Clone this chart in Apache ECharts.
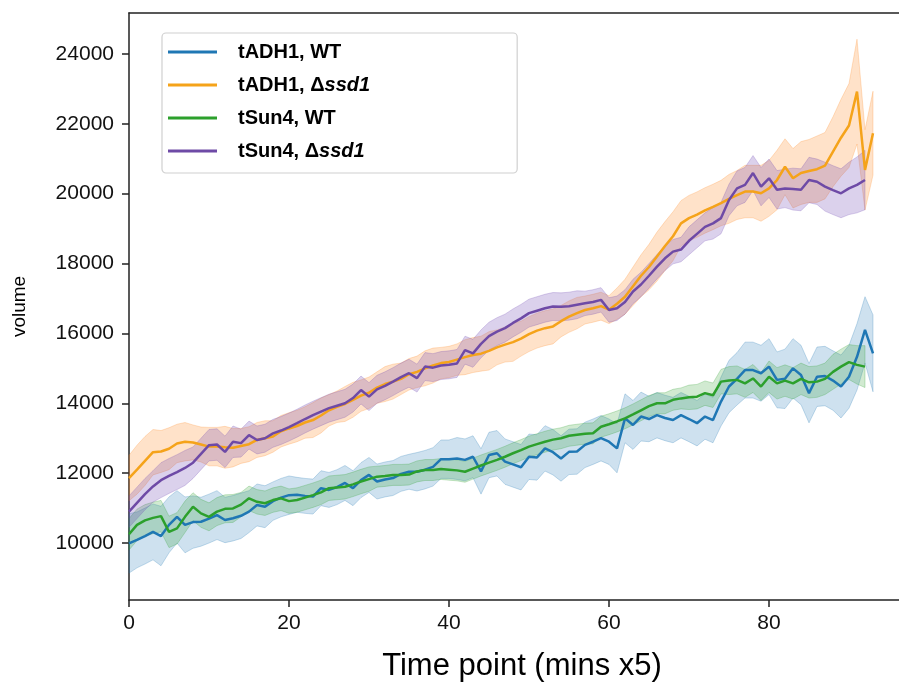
<!DOCTYPE html>
<html><head><meta charset="utf-8">
<script src="https://cdn.jsdelivr.net/npm/echarts@6/dist/echarts.min.js"></script>
<style>html,body{margin:0;padding:0;background:#fff}#c{width:899px;height:687px}</style>
</head><body><div id="c"></div>
<script>
// Time points (mins x5)
const timePoints = [0,1,2,3,4,5,6,7,8,9,10,11,12,13,14,15,16,17,18,19,20,21,22,23,24,25,26,27,28,29,30,31,32,33,34,35,36,37,38,39,40,41,42,43,44,45,46,47,48,49,50,51,52,53,54,55,56,57,58,59,60,61,62,63,64,65,66,67,68,69,70,71,72,73,74,75,76,77,78,79,80,81,82,83,84,85,86,87,88,89,90,91,92,93];

const seriesNames = ['tADH1, WT', 'tADH1, \u0394ssd1', 'tSun4, WT', 'tSun4, \u0394ssd1'];

// tADH1, WT (mean volume) and confidence half-width
const tADH1_WT = [9990,10090,10200,10320,10200,10520,10750,10520,10600,10610,10700,10800,10660,10710,10780,10900,11090,11040,11200,11300,11370,11380,11350,11330,11570,11520,11600,11720,11570,11800,11950,11760,11820,11860,11980,12040,12040,12100,12180,12400,12400,12420,12380,12470,12050,12520,12570,12330,12250,12170,12470,12450,12710,12600,12420,12610,12620,12810,12900,13000,12900,12710,13570,13380,13620,13550,13660,13580,13520,13660,13550,13430,13620,13520,14050,14480,14700,14950,14950,14860,15050,14670,14700,15000,14810,14290,14760,14780,14650,14480,14760,15330,16100,15430];
const tADH1_WT_ci = [850,800,800,800,850,800,750,800,750,700,700,700,650,650,650,600,600,600,550,550,550,500,500,500,500,500,500,500,500,500,500,500,500,500,500,500,550,550,550,550,550,600,600,600,650,650,650,650,650,650,650,650,650,650,650,650,650,650,650,650,650,700,700,700,700,650,650,650,650,650,650,650,650,650,700,750,750,800,800,800,800,800,850,850,850,850,850,850,850,900,900,950,950,1100];

// tADH1, Δssd1
const tADH1_ssd1 = [11860,12100,12350,12600,12620,12700,12850,12900,12880,12820,12760,12760,12740,12730,12780,12830,12950,13000,13050,13200,13280,13350,13450,13520,13650,13800,13900,13980,14100,14220,14300,14450,14550,14620,14700,14830,14900,15000,15080,15150,15180,15250,15320,15380,15420,15500,15600,15680,15750,15850,15980,16080,16150,16200,16350,16480,16580,16670,16720,16780,16680,16850,17050,17350,17650,17900,18200,18500,18780,19150,19300,19400,19520,19620,19730,19850,19960,20060,20060,20010,20150,20390,20770,20440,20590,20650,20700,20800,21200,21600,21950,22920,20680,21730];
const tADH1_ssd1_ci = [650,700,700,650,600,600,550,550,500,500,550,550,600,550,500,500,500,500,450,450,450,450,450,500,500,450,450,500,500,450,450,450,500,500,450,450,450,500,500,450,450,450,500,500,500,550,500,500,550,500,500,500,500,500,450,450,450,400,400,400,400,450,500,550,600,650,700,700,700,650,650,650,650,650,650,700,700,750,750,800,800,850,800,850,900,900,950,950,1000,1100,1200,1500,1150,1200];

// tSun4, WT
const tSun4_WT = [10250,10520,10650,10720,10770,10320,10420,10750,11040,10850,10750,10900,10980,10990,11100,11280,11180,11140,11230,11280,11200,11230,11300,11370,11450,11570,11590,11610,11680,11760,11830,11900,11920,11950,11950,11960,12050,12090,12090,12120,12100,12080,12040,12130,12220,12300,12380,12470,12570,12660,12760,12830,12900,12960,13000,13070,13100,13130,13140,13330,13400,13480,13570,13680,13800,13920,14000,14000,14100,14140,14170,14190,14290,14230,14620,14650,14670,14570,14710,14480,14760,14570,14650,14570,14700,14600,14620,14700,14900,15050,15180,15100,15050];
const tSun4_WT_ci = [450,450,450,450,450,450,450,450,400,400,400,400,400,400,350,350,350,350,350,350,350,350,350,350,350,350,350,350,350,350,350,300,300,300,300,300,300,300,300,300,300,300,300,300,300,300,300,300,300,300,300,300,300,300,300,300,300,300,300,300,300,300,300,300,300,300,300,300,300,300,350,350,350,350,350,400,400,400,400,400,450,450,450,450,450,450,450,450,500,500,500,550,600];

// tSun4, Δssd1
const tSun4_ssd1 = [10900,11150,11400,11620,11800,11920,12030,12150,12300,12550,12800,12820,12610,12900,12860,13090,12950,13000,13140,13220,13320,13430,13550,13660,13760,13860,13930,14000,14150,14380,14190,14400,14500,14620,14750,14860,14720,15050,15020,15080,15100,15140,15520,15430,15700,15920,16050,16150,16300,16430,16580,16650,16720,16770,16760,16780,16820,16860,16900,16960,16670,16720,16900,17200,17400,17650,17910,18150,18340,18400,18650,18850,19050,19150,19300,19820,20150,20250,20590,20200,20440,20110,20150,20130,20110,20390,20340,20200,20100,20010,20150,20250,20390];
const tSun4_ssd1_ci = [450,450,450,450,500,500,500,500,450,450,450,450,450,450,400,400,400,400,400,400,400,400,400,400,400,400,400,400,400,400,400,400,400,400,400,400,400,400,400,400,400,400,400,400,400,400,400,400,400,400,400,400,400,400,400,400,400,350,350,350,350,350,350,350,350,350,350,350,350,350,400,400,400,450,450,450,500,500,500,550,550,550,550,600,600,650,650,700,700,700,750,800,850];

const yTicks = [10000,12000,14000,16000,18000,20000,22000,24000];
const xTicks = [0,20,40,60,80];
const xTitle = 'Time point (mins x5)';
const yTitle = 'volume';

const lineColors = ['#1f77b4', '#f5a31a', '#2ca02c', '#6e4aa6'];
const bandColors = ['rgba(31,119,180,0.22)', 'rgba(255,140,40,0.25)', 'rgba(44,160,44,0.22)', 'rgba(110,70,180,0.25)'];
const bandEdges = ['rgba(31,119,180,0.25)', 'rgba(255,140,40,0.25)', 'rgba(44,160,44,0.25)', 'rgba(110,70,180,0.25)'];

const means = [tADH1_WT, tADH1_ssd1, tSun4_WT, tSun4_ssd1];
const cis = [tADH1_WT_ci, tADH1_ssd1_ci, tSun4_WT_ci, tSun4_ssd1_ci];

const series = [];
means.forEach((m, k) => {
  const ci = cis[k];
  series.push({
    type: 'custom', name: 'band' + k, silent: true, z: 1,
    data: m.map((v, i) => [timePoints[i], v - ci[i], v + ci[i]]),
    encode: { x: 0, y: [1, 2] },
    renderItem: (params, api) => {
      if (params.dataIndexInside !== 0) return null;
      const n = params.dataInsideLength;
      const top = [], bot = [];
      for (let i = 0; i < n; i++) {
        top.push(api.coord([api.value(0, i), api.value(2, i)]));
        bot.push(api.coord([api.value(0, i), api.value(1, i)]));
      }
      return {
        type: 'polygon',
        shape: { points: top.concat(bot.reverse()) },
        style: { fill: bandColors[k], stroke: bandEdges[k], lineWidth: 1 }
      };
    }
  });
  series.push({
    type: 'line', name: seriesNames[k], symbol: 'none', z: 3,
    lineStyle: { width: 2.5, color: lineColors[k] },
    itemStyle: { color: lineColors[k] },
    data: m.map((v, i) => [timePoints[i], v])
  });
});

const legendLabels = {
  'tADH1, WT': '{s|}{b|tADH1, WT}',
  'tADH1, \u0394ssd1': '{s|}{b|tADH1, \u0394}{i|ssd1}',
  'tSun4, WT': '{s|}{b|tSun4, WT}',
  'tSun4, \u0394ssd1': '{s|}{b|tSun4, \u0394}{i|ssd1}'
};

const FONT = 'Liberation Sans';
const chart = echarts.init(document.getElementById('c'));
chart.setOption({
  animation: false,
  backgroundColor: '#fff',
  grid: { left: 129, right: 0, top: 13, bottom: 87, outerBoundsMode: 'none', containLabel: false },
  graphic: [{
    type: 'text', x: 522, y: 666, silent: true,
    style: { text: xTitle, font: '31px "Liberation Sans"', fill: '#000', textAlign: 'center', textVerticalAlign: 'middle' }
  }],
  legend: {
    data: seriesNames,
    orient: 'vertical', left: 162, top: 33,
    icon: 'rect', itemWidth: 49, itemHeight: 3, itemGap: 13,
    padding: [9, 147, 12, 6],
    backgroundColor: '#fff', borderColor: '#d0d0d0', borderWidth: 1.2, borderRadius: 4,
    formatter: n => legendLabels[n],
    textStyle: {
      fontFamily: FONT, fontSize: 20, fontWeight: 'bold', color: '#000',
      rich: {
        s: { width: 16 },
        b: { fontFamily: FONT, fontSize: 20, fontWeight: 'bold', color: '#000', lineHeight: 19 },
        i: { fontFamily: FONT, fontSize: 20, fontWeight: 'bold', fontStyle: 'italic', color: '#000', lineHeight: 19 }
      }
    }
  },
  xAxis: [{
    type: 'value', min: 0, max: 96.25,
    axisLine: { show: true, lineStyle: { color: '#222', width: 1.5 } },
    axisTick: { show: true, length: 7, lineStyle: { color: '#222', width: 1.5 }, customValues: xTicks },
    axisLabel: { customValues: xTicks, fontFamily: FONT, fontSize: 21, color: '#111', margin: 13 },
    splitLine: { show: false }
  }, {
    type: 'value', position: 'top', min: 0, max: 96.25,
    axisLine: { show: true, lineStyle: { color: '#222', width: 1.5 } },
    axisTick: { show: false }, axisLabel: { show: false }, splitLine: { show: false }
  }],
  yAxis: {
    type: 'value', min: 8370, max: 25170,
    name: yTitle, nameLocation: 'middle', nameGap: 100, nameRotate: 90,
    nameTextStyle: { fontFamily: FONT, fontSize: 19, color: '#000' },
    axisLine: { show: true, lineStyle: { color: '#222', width: 1.5 } },
    axisTick: { show: true, length: 7, lineStyle: { color: '#222', width: 1.5 }, customValues: yTicks },
    axisLabel: { customValues: yTicks, formatter: v => String(v), fontFamily: FONT, fontSize: 21, color: '#111', margin: 15 },
    splitLine: { show: false }
  },
  series: series
});
</script>
</body></html>
